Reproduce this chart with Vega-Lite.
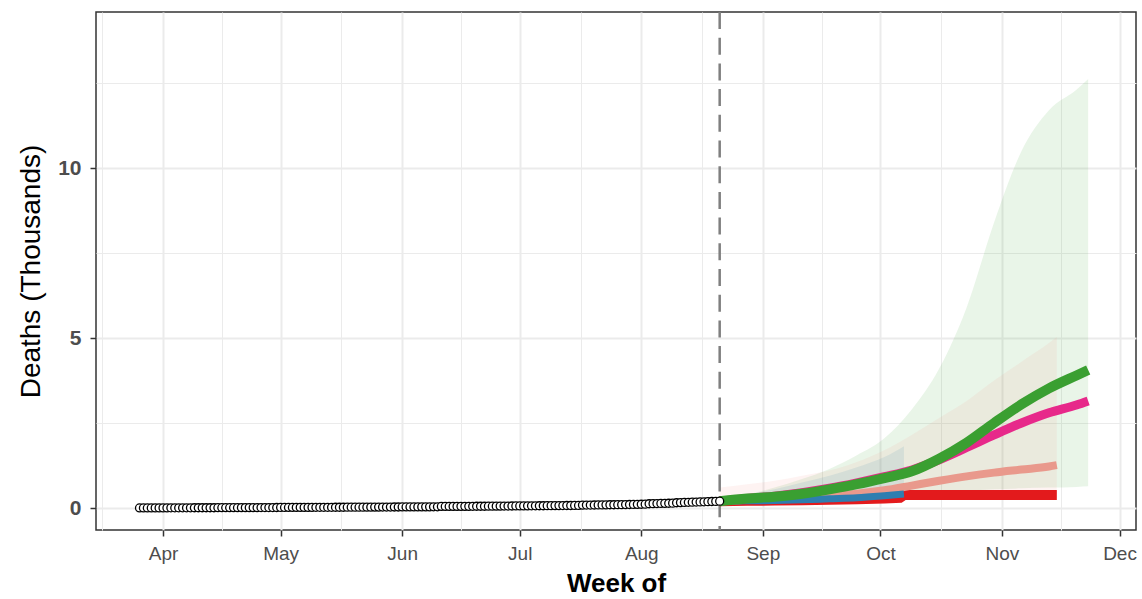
{
  "$schema": "https://vega.github.io/schema/vega-lite/v6.json",
  "width": 1040,
  "height": 518,
  "autosize": {"type": "none"},
  "padding": {"left": 96, "top": 12, "right": 6, "bottom": 69},
  "background": "white",
  "config": {
    "font": "Liberation Sans",
    "view": {"stroke": "#333333", "strokeWidth": 1.5}
  },
  "datasets": {
    "obs": [
      {"d":"2020-03-26","v":0.001},{"d":"2020-03-27","v":0.001},{"d":"2020-03-28","v":0.002},{"d":"2020-03-29","v":0.002},{"d":"2020-03-30","v":0.003},{"d":"2020-03-31","v":0.003},
      {"d":"2020-04-01","v":0.004},{"d":"2020-04-02","v":0.004},{"d":"2020-04-03","v":0.005},{"d":"2020-04-04","v":0.005},{"d":"2020-04-05","v":0.005},{"d":"2020-04-06","v":0.006},{"d":"2020-04-07","v":0.006},{"d":"2020-04-08","v":0.006},{"d":"2020-04-09","v":0.007},{"d":"2020-04-10","v":0.007},
      {"d":"2020-04-11","v":0.007},{"d":"2020-04-12","v":0.008},{"d":"2020-04-13","v":0.008},{"d":"2020-04-14","v":0.008},{"d":"2020-04-15","v":0.009},{"d":"2020-04-16","v":0.009},{"d":"2020-04-17","v":0.009},{"d":"2020-04-18","v":0.010},{"d":"2020-04-19","v":0.010},{"d":"2020-04-20","v":0.010},
      {"d":"2020-04-21","v":0.011},{"d":"2020-04-22","v":0.011},{"d":"2020-04-23","v":0.012},{"d":"2020-04-24","v":0.012},{"d":"2020-04-25","v":0.012},{"d":"2020-04-26","v":0.013},{"d":"2020-04-27","v":0.013},{"d":"2020-04-28","v":0.014},{"d":"2020-04-29","v":0.014},{"d":"2020-04-30","v":0.015},
      {"d":"2020-05-01","v":0.016},{"d":"2020-05-02","v":0.016},{"d":"2020-05-03","v":0.017},{"d":"2020-05-04","v":0.017},{"d":"2020-05-05","v":0.018},{"d":"2020-05-06","v":0.018},{"d":"2020-05-07","v":0.018},{"d":"2020-05-08","v":0.019},{"d":"2020-05-09","v":0.019},{"d":"2020-05-10","v":0.020},
      {"d":"2020-05-11","v":0.020},{"d":"2020-05-12","v":0.020},{"d":"2020-05-13","v":0.021},{"d":"2020-05-14","v":0.021},{"d":"2020-05-15","v":0.022},{"d":"2020-05-16","v":0.022},{"d":"2020-05-17","v":0.022},{"d":"2020-05-18","v":0.023},{"d":"2020-05-19","v":0.023},{"d":"2020-05-20","v":0.024},
      {"d":"2020-05-21","v":0.024},{"d":"2020-05-22","v":0.024},{"d":"2020-05-23","v":0.025},{"d":"2020-05-24","v":0.025},{"d":"2020-05-25","v":0.026},{"d":"2020-05-26","v":0.026},{"d":"2020-05-27","v":0.027},{"d":"2020-05-28","v":0.027},{"d":"2020-05-29","v":0.028},{"d":"2020-05-30","v":0.029},{"d":"2020-05-31","v":0.030},
      {"d":"2020-06-01","v":0.031},{"d":"2020-06-02","v":0.031},{"d":"2020-06-03","v":0.032},{"d":"2020-06-04","v":0.032},{"d":"2020-06-05","v":0.033},{"d":"2020-06-06","v":0.033},{"d":"2020-06-07","v":0.034},{"d":"2020-06-08","v":0.034},{"d":"2020-06-09","v":0.035},{"d":"2020-06-10","v":0.035},
      {"d":"2020-06-11","v":0.045},{"d":"2020-06-12","v":0.046},{"d":"2020-06-13","v":0.046},{"d":"2020-06-14","v":0.047},{"d":"2020-06-15","v":0.047},{"d":"2020-06-16","v":0.048},{"d":"2020-06-17","v":0.049},{"d":"2020-06-18","v":0.049},{"d":"2020-06-19","v":0.050},{"d":"2020-06-20","v":0.051},
      {"d":"2020-06-21","v":0.051},{"d":"2020-06-22","v":0.052},{"d":"2020-06-23","v":0.053},{"d":"2020-06-24","v":0.054},{"d":"2020-06-25","v":0.055},{"d":"2020-06-26","v":0.056},{"d":"2020-06-27","v":0.057},{"d":"2020-06-28","v":0.058},{"d":"2020-06-29","v":0.059},{"d":"2020-06-30","v":0.060},
      {"d":"2020-07-01","v":0.061},{"d":"2020-07-02","v":0.062},{"d":"2020-07-03","v":0.063},{"d":"2020-07-04","v":0.064},{"d":"2020-07-05","v":0.065},{"d":"2020-07-06","v":0.066},{"d":"2020-07-07","v":0.067},{"d":"2020-07-08","v":0.068},{"d":"2020-07-09","v":0.069},{"d":"2020-07-10","v":0.070},
      {"d":"2020-07-11","v":0.071},{"d":"2020-07-12","v":0.072},{"d":"2020-07-13","v":0.073},{"d":"2020-07-14","v":0.074},{"d":"2020-07-15","v":0.075},{"d":"2020-07-16","v":0.076},{"d":"2020-07-17","v":0.085},{"d":"2020-07-18","v":0.086},{"d":"2020-07-19","v":0.087},{"d":"2020-07-20","v":0.089},
      {"d":"2020-07-21","v":0.090},{"d":"2020-07-22","v":0.092},{"d":"2020-07-23","v":0.093},{"d":"2020-07-24","v":0.095},{"d":"2020-07-25","v":0.096},{"d":"2020-07-26","v":0.098},{"d":"2020-07-27","v":0.099},{"d":"2020-07-28","v":0.101},{"d":"2020-07-29","v":0.103},{"d":"2020-07-30","v":0.105},{"d":"2020-07-31","v":0.107},
      {"d":"2020-08-01","v":0.110},{"d":"2020-08-02","v":0.112},{"d":"2020-08-03","v":0.125},{"d":"2020-08-04","v":0.128},{"d":"2020-08-05","v":0.131},{"d":"2020-08-06","v":0.134},{"d":"2020-08-07","v":0.137},{"d":"2020-08-08","v":0.140},{"d":"2020-08-09","v":0.143},{"d":"2020-08-10","v":0.155},
      {"d":"2020-08-11","v":0.159},{"d":"2020-08-12","v":0.163},{"d":"2020-08-13","v":0.167},{"d":"2020-08-14","v":0.171},{"d":"2020-08-15","v":0.175},{"d":"2020-08-16","v":0.179},{"d":"2020-08-17","v":0.183},{"d":"2020-08-18","v":0.187},{"d":"2020-08-19","v":0.191},{"d":"2020-08-20","v":0.195},{"d":"2020-08-21","v":0.200}
    ],
    "fc": [
      {"m":"green","d":"2020-08-21","mean":0.2,"lo":0.18,"hi":0.25},
      {"m":"green","d":"2020-08-28","mean":0.28,"lo":0.2,"hi":0.4},
      {"m":"green","d":"2020-09-04","mean":0.33,"lo":0.22,"hi":0.6},
      {"m":"green","d":"2020-09-11","mean":0.42,"lo":0.25,"hi":0.85},
      {"m":"green","d":"2020-09-18","mean":0.55,"lo":0.28,"hi":1.15},
      {"m":"green","d":"2020-09-25","mean":0.7,"lo":0.32,"hi":1.55},
      {"m":"green","d":"2020-10-02","mean":0.88,"lo":0.36,"hi":2.05},
      {"m":"green","d":"2020-10-09","mean":1.08,"lo":0.4,"hi":2.9},
      {"m":"green","d":"2020-10-16","mean":1.45,"lo":0.45,"hi":4.1},
      {"m":"green","d":"2020-10-23","mean":1.92,"lo":0.5,"hi":5.9},
      {"m":"green","d":"2020-10-30","mean":2.5,"lo":0.55,"hi":8.4},
      {"m":"green","d":"2020-11-06","mean":3.05,"lo":0.58,"hi":10.5},
      {"m":"green","d":"2020-11-13","mean":3.52,"lo":0.6,"hi":11.7},
      {"m":"green","d":"2020-11-20","mean":3.9,"lo":0.62,"hi":12.3},
      {"m":"green","d":"2020-11-23","mean":4.06,"lo":0.64,"hi":12.62},
      {"m":"pink","d":"2020-08-21","mean":0.2},
      {"m":"pink","d":"2020-08-28","mean":0.28},
      {"m":"pink","d":"2020-09-04","mean":0.35},
      {"m":"pink","d":"2020-09-11","mean":0.45},
      {"m":"pink","d":"2020-09-18","mean":0.58},
      {"m":"pink","d":"2020-09-25","mean":0.74},
      {"m":"pink","d":"2020-10-02","mean":0.92},
      {"m":"pink","d":"2020-10-09","mean":1.12},
      {"m":"pink","d":"2020-10-16","mean":1.42},
      {"m":"pink","d":"2020-10-23","mean":1.78},
      {"m":"pink","d":"2020-10-30","mean":2.15},
      {"m":"pink","d":"2020-11-06","mean":2.5},
      {"m":"pink","d":"2020-11-13","mean":2.8},
      {"m":"pink","d":"2020-11-20","mean":3.03},
      {"m":"pink","d":"2020-11-23","mean":3.15},
      {"m":"salmon","d":"2020-08-21","mean":0.2,"lo":0.18,"hi":0.6},
      {"m":"salmon","d":"2020-08-28","mean":0.24,"lo":0.2,"hi":0.7},
      {"m":"salmon","d":"2020-09-04","mean":0.28,"lo":0.22,"hi":0.8},
      {"m":"salmon","d":"2020-09-11","mean":0.32,"lo":0.24,"hi":0.95},
      {"m":"salmon","d":"2020-09-18","mean":0.36,"lo":0.26,"hi":1.1},
      {"m":"salmon","d":"2020-09-25","mean":0.42,"lo":0.28,"hi":1.35},
      {"m":"salmon","d":"2020-10-02","mean":0.52,"lo":0.3,"hi":1.7},
      {"m":"salmon","d":"2020-10-09","mean":0.66,"lo":0.32,"hi":2.15},
      {"m":"salmon","d":"2020-10-16","mean":0.8,"lo":0.34,"hi":2.65},
      {"m":"salmon","d":"2020-10-23","mean":0.93,"lo":0.36,"hi":3.15},
      {"m":"salmon","d":"2020-10-30","mean":1.04,"lo":0.38,"hi":3.75},
      {"m":"salmon","d":"2020-11-06","mean":1.13,"lo":0.4,"hi":4.3},
      {"m":"salmon","d":"2020-11-13","mean":1.22,"lo":0.42,"hi":4.85},
      {"m":"salmon","d":"2020-11-15","mean":1.26,"lo":0.42,"hi":5.03},
      {"m":"blue","d":"2020-08-21","mean":0.2,"lo":0.18,"hi":0.25},
      {"m":"blue","d":"2020-08-28","mean":0.21,"lo":0.19,"hi":0.4},
      {"m":"blue","d":"2020-09-04","mean":0.22,"lo":0.2,"hi":0.55},
      {"m":"blue","d":"2020-09-11","mean":0.24,"lo":0.21,"hi":0.75},
      {"m":"blue","d":"2020-09-18","mean":0.27,"lo":0.22,"hi":0.95},
      {"m":"blue","d":"2020-09-25","mean":0.3,"lo":0.24,"hi":1.2},
      {"m":"blue","d":"2020-10-02","mean":0.36,"lo":0.26,"hi":1.5},
      {"m":"blue","d":"2020-10-07","mean":0.41,"lo":0.28,"hi":1.82},
      {"m":"red","d":"2020-08-21","mean":0.2,"lo":0.18,"hi":0.22},
      {"m":"red","d":"2020-08-28","mean":0.21,"lo":0.19,"hi":0.26},
      {"m":"red","d":"2020-09-04","mean":0.22,"lo":0.2,"hi":0.3},
      {"m":"red","d":"2020-09-11","mean":0.23,"lo":0.2,"hi":0.33},
      {"m":"red","d":"2020-09-18","mean":0.24,"lo":0.21,"hi":0.36},
      {"m":"red","d":"2020-09-25","mean":0.26,"lo":0.22,"hi":0.4},
      {"m":"red","d":"2020-10-02","mean":0.28,"lo":0.23,"hi":0.43},
      {"m":"red","d":"2020-10-06","mean":0.3,"lo":0.24,"hi":0.45},
      {"m":"red","d":"2020-10-07","mean":0.38,"lo":0.3,"hi":0.48},
      {"m":"red","d":"2020-10-16","mean":0.38,"lo":0.3,"hi":0.5},
      {"m":"red","d":"2020-11-15","mean":0.38,"lo":0.3,"hi":0.5}
    ]
  },
  "encoding": {
    "x": {
      "field": "d",
      "type": "temporal",
      "scale": {
        "type": "utc",
        "domain": [
          {"year": 2020, "month": 3, "date": 14, "hours": 21, "minutes": 36, "utc": true},
          {"year": 2020, "month": 12, "date": 5, "hours": 4, "minutes": 48, "utc": true}
        ]
      },
      "axis": {
        "title": "Week of",
        "values": [
          {"year": 2020, "month": 3, "date": 16, "hours": 12, "utc": true},
          {"year": 2020, "month": 4, "date": 1, "utc": true},
          {"year": 2020, "month": 4, "date": 16, "utc": true},
          {"year": 2020, "month": 5, "date": 1, "utc": true},
          {"year": 2020, "month": 5, "date": 16, "hours": 12, "utc": true},
          {"year": 2020, "month": 6, "date": 1, "utc": true},
          {"year": 2020, "month": 6, "date": 16, "utc": true},
          {"year": 2020, "month": 7, "date": 1, "utc": true},
          {"year": 2020, "month": 7, "date": 16, "hours": 12, "utc": true},
          {"year": 2020, "month": 8, "date": 1, "utc": true},
          {"year": 2020, "month": 8, "date": 16, "hours": 12, "utc": true},
          {"year": 2020, "month": 9, "date": 1, "utc": true},
          {"year": 2020, "month": 9, "date": 16, "utc": true},
          {"year": 2020, "month": 10, "date": 1, "utc": true},
          {"year": 2020, "month": 10, "date": 16, "hours": 12, "utc": true},
          {"year": 2020, "month": 11, "date": 1, "utc": true},
          {"year": 2020, "month": 11, "date": 16, "utc": true},
          {"year": 2020, "month": 12, "date": 1, "utc": true}
        ],
        "labelExpr": "utcdate(datum.value) == 1 ? utcFormat(datum.value, '%b') : ''",
        "grid": true,
        "gridColor": "#EBEBEB",
        "gridWidth": {"condition": {"test": "utcdate(datum.value) == 1", "value": 2}, "value": 1},
        "tickOpacity": {"condition": {"test": "utcdate(datum.value) == 1", "value": 1}, "value": 0},
        "tickSize": 6,
        "tickWidth": 1.5,
        "tickColor": "#333333",
        "domain": false,
        "labelFontSize": 19,
        "labelColor": "#4D4D4D",
        "labelPadding": 8,
        "labelFlush": false,
        "labelOverlap": false,
        "titleFontSize": 26,
        "titleFontWeight": "bold",
        "titleColor": "#000000",
        "titlePadding": 7
      }
    }
  },
  "layer": [
    {
      "data": {"name": "fc"},
      "transform": [{"filter": "isValid(datum.lo)"}],
      "mark": {"type": "area", "opacity": 0.11, "interpolate": "monotone"},
      "encoding": {
        "y": {
          "field": "lo",
          "type": "quantitative",
          "stack": null,
          "scale": {"domain": [-0.647, 14.59], "nice": false, "zero": false},
          "axis": {
            "title": "Deaths (Thousands)",
            "values": [0, 2.5, 5, 7.5, 10, 12.5],
            "labelExpr": "datum.value % 5 == 0 ? format(datum.value, 'd') : ''",
            "grid": true,
            "gridColor": "#EBEBEB",
            "gridWidth": {"condition": {"test": "datum.value % 5 == 0", "value": 2}, "value": 1},
            "tickOpacity": {"condition": {"test": "datum.value % 5 == 0", "value": 1}, "value": 0},
            "tickSize": 6,
            "tickWidth": 1.5,
            "tickColor": "#333333",
            "domain": false,
            "labelFontSize": 21,
            "labelFontWeight": "bold",
            "labelColor": "#4D4D4D",
            "labelPadding": 9,
            "titleFontSize": 28,
            "titleFontWeight": "normal",
            "titleColor": "#000000",
            "titlePadding": 12
          }
        },
        "y2": {"field": "hi"},
        "color": {
          "field": "m",
          "type": "nominal",
          "scale": {"domain": ["red", "blue", "salmon", "pink", "green"], "range": ["#E31A1C", "#2E7EB0", "#F4908A", "#E7298A", "#33A02C"]},
          "legend": null
        }
      }
    },
    {
      "data": {"values": [{"d": "2020-08-21"}]},
      "mark": {"type": "rule", "color": "#7F7F7F", "strokeWidth": 2.5, "strokeDash": [17, 8.7]},
      "encoding": {}
    },
    {
      "data": {"name": "fc"},
      "transform": [{"filter": "datum.m == 'red'"}],
      "mark": {"type": "line", "color": "#E31A1C", "strokeWidth": 10, "strokeCap": "butt"},
      "encoding": {"y": {"field": "mean", "type": "quantitative", "title": "Deaths (Thousands)"}}
    },
    {
      "data": {"name": "fc"},
      "transform": [{"filter": "datum.m == 'salmon'"}],
      "mark": {"type": "line", "color": "#E9998C", "strokeWidth": 8, "strokeCap": "butt", "interpolate": "monotone"},
      "encoding": {"y": {"field": "mean", "type": "quantitative", "title": "Deaths (Thousands)"}}
    },
    {
      "data": {"name": "fc"},
      "transform": [{"filter": "datum.m == 'blue'"}],
      "mark": {"type": "line", "color": "#2E7EB0", "strokeWidth": 7, "strokeCap": "butt", "interpolate": "monotone"},
      "encoding": {"y": {"field": "mean", "type": "quantitative", "title": "Deaths (Thousands)"}}
    },
    {
      "data": {"name": "fc"},
      "transform": [{"filter": "datum.m == 'pink'"}],
      "mark": {"type": "line", "color": "#E7298A", "strokeWidth": 9, "strokeCap": "butt", "interpolate": "monotone"},
      "encoding": {"y": {"field": "mean", "type": "quantitative", "title": "Deaths (Thousands)"}}
    },
    {
      "data": {"name": "fc"},
      "transform": [{"filter": "datum.m == 'green'"}],
      "mark": {"type": "line", "color": "#3A9F31", "strokeWidth": 10, "strokeCap": "butt", "interpolate": "monotone"},
      "encoding": {"y": {"field": "mean", "type": "quantitative", "title": "Deaths (Thousands)"}}
    },
    {
      "data": {"name": "obs"},
      "mark": {"type": "circle", "size": 64, "fill": "white", "fillOpacity": 1, "opacity": 1, "stroke": "black", "strokeWidth": 1.3},
      "encoding": {"y": {"field": "v", "type": "quantitative", "title": "Deaths (Thousands)"}}
    }
  ]
}
